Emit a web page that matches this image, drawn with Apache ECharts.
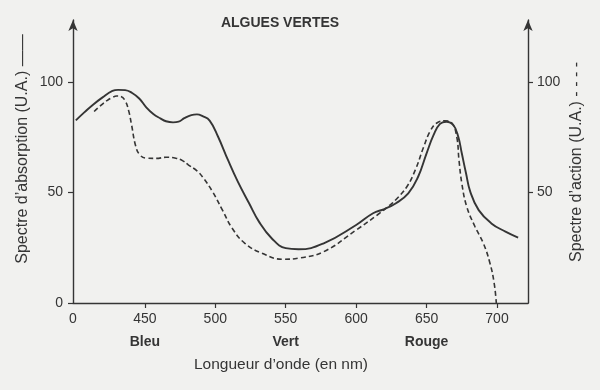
<!DOCTYPE html>
<html>
<head>
<meta charset="utf-8">
<script src="https://cdn.jsdelivr.net/npm/echarts@6/dist/echarts.min.js"></script>
<style>
html,body{margin:0;padding:0;background:#f1f1ef;}
#c{width:600px;height:390px;}
</style>
</head>
<body>
<div id="c"></div>
<script>
// ---- data ----
const titleText = 'ALGUES VERTES';
const xAxisName = 'Longueur d’onde (en nm)';
const leftAxisName = 'Spectre d’absorption (U.A.) ——';
const rightAxisName = 'Spectre d’action (U.A.) - - - -';

const xMin = 399;
const xMax = 722;
const yMin = 0;
const yMax = 128;

const xTickValues = [399, 450, 500, 550, 600, 650, 700];
const xTickLabels = ['0', '450', '500', '550', '600', '650', '700'];
const colourBands = ['', 'Bleu', '', 'Vert', '', 'Rouge', ''];
const yLeftTicks = [0, 50, 100];
const yRightTicks = [50, 100];

// absorption spectrum (solid)
const absorptionNm = [401, 407, 413, 420, 427, 431, 436, 441, 446, 451, 456, 461, 465, 470, 474, 478, 483, 487, 491, 496, 502, 509, 516, 524, 531, 540, 550, 559, 577, 600, 612, 620, 628, 637, 644, 650, 655, 659.5, 664, 669, 672.5, 675, 678, 681, 687, 696, 706, 715];
const absorptionVal = [82.6, 86.2, 89.6, 93, 95.9, 96.4, 96.3, 95, 92.5, 88.5, 85.5, 83.5, 82.2, 81.7, 82, 83.6, 85, 85.3, 84.5, 82.5, 75.2, 64.7, 54.9, 45.1, 36.8, 29.3, 24.8, 24.3, 27, 35.3, 40.6, 42.5, 45, 49.6, 57.1, 67.7, 76, 81, 82, 80.5, 75.2, 67.7, 58.7, 50.4, 42, 36, 32.3, 29.6];

// action spectrum (dashed)
const actionNm = [414, 419, 423, 427, 430, 433, 436, 438.5, 440.6, 443.5, 446.5, 451, 458, 465, 472, 477, 481, 487, 491, 498, 505, 512, 521, 533, 548, 560, 577, 600, 615, 624, 628, 636, 642, 648, 652.4, 657, 663, 668, 671.4, 673, 675, 678.5, 684.4, 690.3, 695, 698, 699.5];
const actionVal = [86.6, 89.5, 91.5, 93, 93.6, 93.4, 91.5, 87, 80.5, 71, 67, 65.5, 65.4, 65.9, 65.5, 64.3, 62.4, 59.8, 57, 50.4, 42.1, 33.8, 27, 22.5, 19.8, 20.4, 23.2, 33, 39.8, 44.3, 46.6, 52.6, 60.2, 70.7, 77.5, 81.3, 82.4, 81.3, 75.2, 64.7, 54.2, 43.6, 34.5, 27, 18, 8.9, 0];

// ---- chart ----
const ink = '#353535';
const font = '"Liberation Sans", Arial, Helvetica, sans-serif';
const chart = echarts.init(document.getElementById('c'), null, {renderer: 'canvas'});

const absorption = absorptionNm.map((x, i) => [x, absorptionVal[i]]);
const action = actionNm.map((x, i) => [x, actionVal[i]]);

const yAxisCommon = {
  type: 'value', min: yMin, max: yMax,
  splitLine: {show: false},
  axisLine: {show: true, onZero: false, symbol: ['none', 'arrow'], symbolSize: [7, 11], lineStyle: {color: ink, width: 1.4}},
  axisTick: {show: true, inside: false, length: 5, lineStyle: {color: ink, width: 1.2}},
  axisLabel: {color: ink, fontSize: 14, fontFamily: font}
};

chart.setOption({
  backgroundColor: '#f1f1ef',
  animation: false,
  grid: {left: 73, right: 72, top: 20, bottom: 87, containLabel: false},
  xAxis: {
    type: 'value', min: xMin, max: xMax,
    splitLine: {show: false},
    axisLine: {show: true, onZero: false, lineStyle: {color: ink, width: 1.4}},
    axisTick: {show: true, length: 5, customValues: xTickValues.slice(1), lineStyle: {color: ink, width: 1.2}},
    axisLabel: {
      customValues: xTickValues,
      margin: 6,
      formatter: function (v) {
        const i = xTickValues.indexOf(v);
        if (i < 0) return '';
        return '{n|' + xTickLabels[i] + '}' + (colourBands[i] ? '\n{c|' + colourBands[i] + '}' : '');
      },
      rich: {
        n: {color: ink, fontSize: 14, fontFamily: font, lineHeight: 20},
        c: {color: ink, fontSize: 14, fontWeight: 'bold', fontFamily: font, lineHeight: 26}
      }
    }
  },
  yAxis: [
    Object.assign({}, yAxisCommon, {
      position: 'left',
      axisTick: Object.assign({}, yAxisCommon.axisTick, {customValues: yLeftTicks}),
      axisLabel: Object.assign({}, yAxisCommon.axisLabel, {customValues: yLeftTicks, margin: 10})
    }),
    Object.assign({}, yAxisCommon, {
      position: 'right',
      axisTick: Object.assign({}, yAxisCommon.axisTick, {customValues: yRightTicks}),
      axisLabel: Object.assign({}, yAxisCommon.axisLabel, {customValues: yRightTicks, margin: 9})
    })
  ],
  series: [
    {
      name: 'absorption', type: 'line', yAxisIndex: 0, data: absorption,
      smooth: 0.45, showSymbol: false,
      lineStyle: {color: ink, width: 1.9}
    },
    {
      name: 'action', type: 'line', yAxisIndex: 1, data: action,
      smooth: 0.45, showSymbol: false,
      lineStyle: {color: ink, width: 1.6, type: [5, 3]}
    }
  ],
  graphic: [
    {type: 'text', x: 280, y: 23, style: {text: titleText, fill: ink, font: 'bold 14px ' + font, align: 'center', verticalAlign: 'middle'}},
    {type: 'text', x: 281, y: 365, style: {text: xAxisName, fill: ink, font: '15.5px ' + font, align: 'center', verticalAlign: 'middle'}},
    {type: 'text', x: 23, y: 149, rotation: Math.PI / 2, style: {text: leftAxisName, fill: ink, font: '16px ' + font, align: 'center', verticalAlign: 'middle'}},
    {type: 'text', x: 577, y: 162, rotation: Math.PI / 2, style: {text: rightAxisName, fill: ink, font: '16px ' + font, align: 'center', verticalAlign: 'middle'}}
  ]
});
</script>
</body>
</html>
